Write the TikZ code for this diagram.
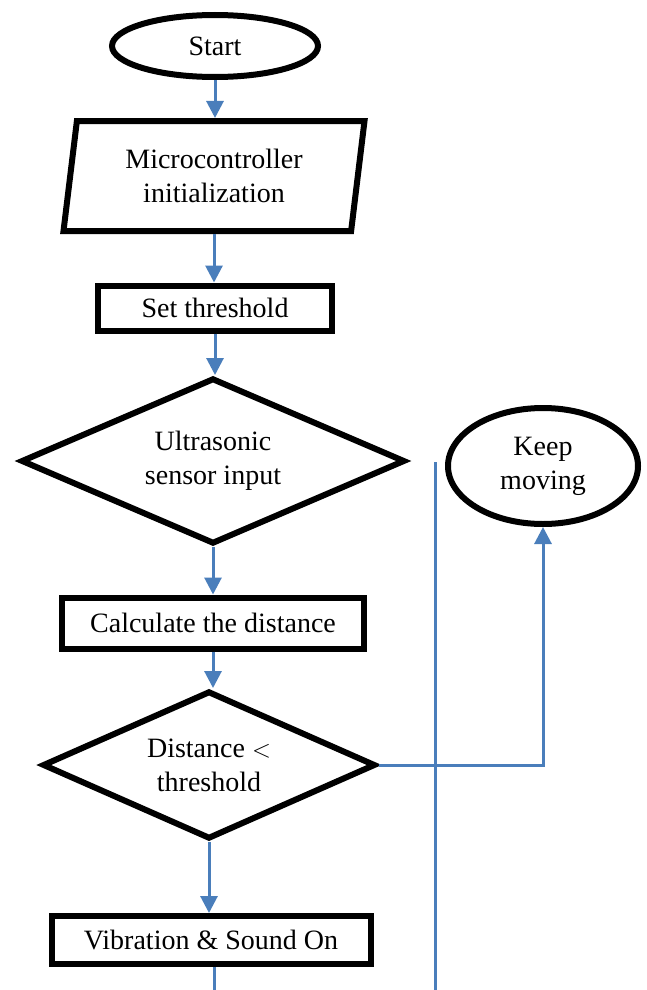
\documentclass[tikz,border=0pt]{standalone}
\usepackage{fontspec}
\setmainfont{Liberation Serif}
\usetikzlibrary{shapes.geometric,arrows.meta}
\definecolor{linkblue}{RGB}{74,126,187}

\begin{document}
\begin{tikzpicture}[x=1pt, y=-1pt,
	every node/.style={font=\fontsize{28}{34}\selectfont, align=center, inner sep=0pt, line width=6pt},
	box/.style={draw, rectangle},
	terminal/.style={draw, ellipse},
	decision/.style={draw, diamond, aspect=2.3},
	io/.style={draw, trapezium, trapezium left angle=76, trapezium right angle=104, trapezium stretches body},
	link/.style={draw=linkblue, line width=3pt},
	linkarrow/.style={link, -{Triangle[width=17pt,length=17pt]}}]
	\useasboundingbox (0,0) rectangle (647,990);
	% main column
	\node[terminal, minimum width=206pt, minimum height=62pt] (start) at (215,46) {Start};
	\node[io, minimum width=301pt, minimum height=110pt] (init) at (214,176) {Microcontroller\\initialization};
	\node[box, minimum width=234pt, minimum height=45pt] (thresh) at (215,308) {Set threshold};
	\node[decision, minimum width=384pt, minimum height=166pt] (sensor) at (213,461) {Ultrasonic\\sensor input};
	\node[box, minimum width=302pt, minimum height=51pt] (calc) at (213,623) {Calculate the distance};
	\node[decision, minimum width=333pt, minimum height=148pt] (check) at (209,765) {Distance $<$\\threshold};
	\node[box, minimum width=319pt, minimum height=48pt] (alarm) at (211,940) {Vibration \& Sound On};
	% right side
	\node[terminal, minimum width=190pt, minimum height=116pt] (keep) at (543,466) {Keep\\moving};
	\coordinate (sidetop) at (435,462);
	\coordinate (sidebot) at (435,990);
	\coordinate (alarmend) at (214,990);

	\draw[linkarrow] (start.south) -- (start.south |- init.north);
	\draw[linkarrow] (init.south) -- (init.south |- thresh.north);
	\draw[linkarrow] (thresh.south) -- (thresh.south |- sensor.north);
	\draw[linkarrow] (sensor.south) -- (sensor.south |- calc.north);
	\draw[linkarrow] (calc.south) -- (calc.south |- check.north);
	\draw[linkarrow] (check.south) -- (check.south |- alarm.north);
	\draw[linkarrow] (check.east) -| (keep.south);
	\draw[link] (sidetop) -- (sidebot);
	\draw[link] (alarm.south -| alarmend) -- (alarmend);
\end{tikzpicture}
\end{document}
